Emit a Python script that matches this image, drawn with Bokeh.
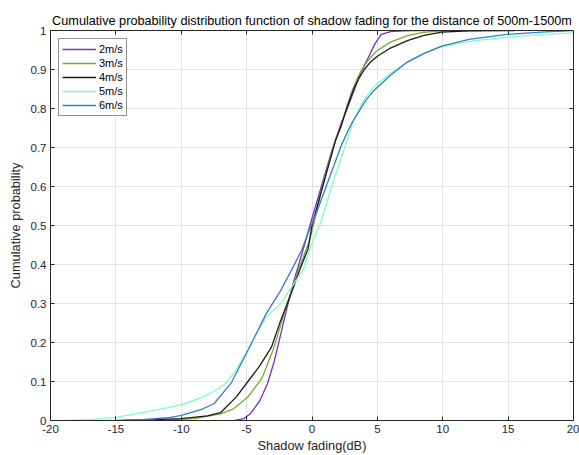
from bokeh.plotting import figure
from bokeh.models import LinearAxis, Range1d, Legend, LegendItem, FixedTicker
from bokeh.embed import file_html
from bokeh.resources import INLINE

# ---- data ----
labels = ["2m/s", "3m/s", "4m/s", "5m/s", "6m/s"]
colors = ["#7B2FBE", "#77AC30", "#1a1a1a", "#7CFFC4", "#3A7BC8"]

x_2 = [-5.9, -5.2, -4.7, -4.0, -3.4, -2.9, -2.4, -1.9, -1.45, -0.7, 0.1, 0.8, 1.5, 2.2, 2.7, 3.2, 3.7, 4.3, 4.8, 5.3, 6.0, 7.0, 8.0, 11.0]
y_2 = [0.0, 0.005, 0.018, 0.05, 0.095, 0.15, 0.22, 0.29, 0.35, 0.436, 0.53, 0.61, 0.69, 0.76, 0.80, 0.845, 0.89, 0.93, 0.965, 0.99, 0.997, 0.999, 1.0, 1.0]

x_3 = [-11.5, -9.0, -7.0, -6.0, -4.9, -3.8, -2.9, -1.9, -1.0, -0.2, 0.1, 0.8, 1.6, 2.2, 3.0, 3.5, 4.0, 4.5, 5.0, 6.0, 7.3, 8.5, 9.9, 13.0]
y_3 = [0.0, 0.005, 0.017, 0.03, 0.06, 0.11, 0.188, 0.30, 0.39, 0.46, 0.50, 0.60, 0.70, 0.755, 0.84, 0.88, 0.91, 0.932, 0.949, 0.97, 0.987, 0.995, 0.999, 1.0]

x_4 = [-14.5, -12.0, -10.0, -8.0, -7.0, -5.8, -4.9, -4.0, -3.1, -2.4, -1.6, -0.9, -0.3, 0.0, 0.65, 1.8, 2.2, 2.7, 3.2, 3.6, 4.0, 4.5, 5.0, 6.0, 7.3, 8.5, 9.9, 12.0, 15.5]
y_4 = [0.0, 0.002, 0.005, 0.012, 0.02, 0.06, 0.10, 0.14, 0.188, 0.256, 0.325, 0.39, 0.44, 0.50, 0.58, 0.718, 0.752, 0.805, 0.85, 0.878, 0.9, 0.92, 0.934, 0.955, 0.974, 0.987, 0.996, 0.999, 1.0]

x_5 = [-19.0, -17.0, -15.0, -13.0, -11.5, -10.0, -8.5, -7.5, -6.6, -5.8, -4.9, -4.2, -3.5, -2.4, -1.2, -0.65, -0.2, 0.3, 0.65, 1.5, 2.5, 3.2, 3.84, 4.7, 6.0, 7.3, 8.5, 9.9, 12.0, 14.9, 17.5, 20.0]
y_5 = [0.0, 0.002, 0.008, 0.02, 0.03, 0.04, 0.058, 0.075, 0.095, 0.13, 0.18, 0.225, 0.265, 0.30, 0.36, 0.389, 0.436, 0.48, 0.505, 0.60, 0.70, 0.77, 0.815, 0.855, 0.89, 0.92, 0.94, 0.958, 0.972, 0.983, 0.99, 0.994]

x_6 = [-15.0, -13.0, -11.0, -10.0, -8.5, -7.5, -6.2, -4.9, -3.5, -2.4, -1.5, -0.8, -0.3, 0.4, 1.3, 2.3, 3.0, 4.1, 4.7, 6.0, 7.3, 8.5, 9.9, 12.0, 14.9, 17.5, 20.0]
y_6 = [0.0, 0.002, 0.007, 0.013, 0.028, 0.043, 0.095, 0.18, 0.274, 0.333, 0.39, 0.436, 0.48, 0.538, 0.62, 0.71, 0.76, 0.82, 0.845, 0.885, 0.919, 0.94, 0.96, 0.977, 0.99, 0.996, 1.0]

series_x = [x_2, x_3, x_4, x_5, x_6]
series_y = [y_2, y_3, y_4, y_5, y_6]

x_ticks = [-20, -15, -10, -5, 0, 5, 10, 15, 20]
y_ticks = [0, 0.1, 0.2, 0.3, 0.4, 0.5, 0.6, 0.7, 0.8, 0.9, 1]

FONT = "Liberation Sans"
AXC = "#262626"

p = figure(width=579, height=455, output_backend="svg", toolbar_location=None,
           x_range=Range1d(-20, 20), y_range=Range1d(0, 1),
           min_border_left=50, min_border_right=6, min_border_top=30, min_border_bottom=35,
           title="Cumulative probability distribution function of shadow fading for the distance of 500m-1500m")

p.title.text_font = FONT
p.title.text_font_size = "12.7px"
p.title.text_font_style = "normal"
p.title.align = "center"
p.title.text_color = "#000000"
p.title.standoff = 5

p.outline_line_color = AXC
p.background_fill_color = "white"
p.border_fill_color = "white"

renderers = []
for xs, ys, c in zip(series_x, series_y, colors):
    r = p.line(xs, ys, line_color=c, line_width=1.3)
    renderers.append(r)

def style_axis(ax, show_labels=True):
    ax.axis_line_color = AXC
    ax.major_tick_line_color = AXC
    ax.major_tick_in = 4
    ax.major_tick_out = 0
    ax.minor_tick_line_color = None
    ax.major_label_text_font = FONT
    ax.major_label_text_font_size = "11.5px"
    ax.major_label_text_color = AXC if show_labels else None
    ax.major_label_standoff = 4
    ax.axis_label_text_font = FONT
    ax.axis_label_text_font_size = "12.8px"
    ax.axis_label_text_font_style = "normal"
    ax.axis_label_text_color = AXC

xa = p.xaxis[0]
xa.ticker = FixedTicker(ticks=x_ticks)
xa.major_label_overrides = {t: str(t) for t in x_ticks}
xa.axis_label = "Shadow fading(dB)"
xa.axis_label_standoff = 2
style_axis(xa)

ya = p.yaxis[0]
ya.ticker = FixedTicker(ticks=y_ticks)
ya.major_label_overrides = {t: ("%g" % t) for t in y_ticks}
ya.axis_label = "Cumulative probability"
ya.axis_label_standoff = 5
style_axis(ya)

top = LinearAxis(ticker=FixedTicker(ticks=x_ticks))
style_axis(top, show_labels=False)
top.major_label_standoff = 0
p.add_layout(top, "above")
right = LinearAxis(ticker=FixedTicker(ticks=y_ticks))
style_axis(right, show_labels=False)
right.major_label_standoff = 0
p.add_layout(right, "right")

p.xgrid.ticker = FixedTicker(ticks=x_ticks)
p.ygrid.ticker = FixedTicker(ticks=y_ticks)
p.grid.grid_line_color = "#dcdcdc"
p.grid.grid_line_alpha = 0.8

legend = Legend(items=[LegendItem(label=l, renderers=[r]) for l, r in zip(labels, renderers)],
                location="top_left")
legend.margin = 8
legend.padding = 3
legend.spacing = 0
legend.label_height = 14
legend.glyph_height = 14
legend.glyph_width = 34
legend.label_standoff = 3
legend.label_text_font = FONT
legend.label_text_font_size = "11px"
legend.label_text_color = "#000000"
legend.border_line_color = AXC
legend.border_line_width = 1
legend.background_fill_color = "white"
legend.background_fill_alpha = 1
p.add_layout(legend, "center")

open("out.html", "w").write(file_html(p, INLINE))
